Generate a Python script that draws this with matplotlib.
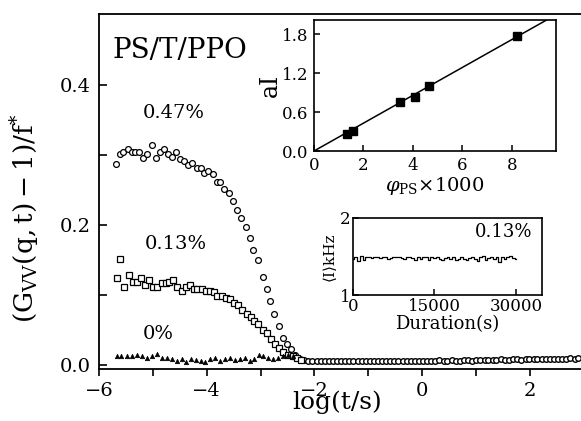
import matplotlib
matplotlib.use("Agg")
import matplotlib.pyplot as plt

plt.rcParams['font.family'] = ['DejaVu Serif']
plt.rcParams['mathtext.fontset'] = 'dejavuserif'

# main panel: 0.47 % (circles)
x047 = [-5.685, -5.61, -5.555, -5.46, -5.39, -5.33, -5.26, -5.18, -5.11, -5.02,
        -4.94, -4.87, -4.79, -4.72, -4.65, -4.57, -4.50, -4.42, -4.35, -4.27,
        -4.18, -4.11, -4.05, -3.98, -3.88, -3.81, -3.76, -3.68, -3.59, -3.51,
        -3.44, -3.37, -3.27, -3.20, -3.14, -3.05, -2.96, -2.88, -2.83, -2.75,
        -2.66, -2.59, -2.51, -2.44, -2.36, -2.27]
y047 = [0.288, 0.301, 0.304, 0.309, 0.305, 0.304, 0.305, 0.296, 0.302, 0.314,
        0.296, 0.304, 0.309, 0.301, 0.298, 0.305, 0.294, 0.291, 0.286, 0.289,
        0.281, 0.282, 0.275, 0.278, 0.273, 0.262, 0.262, 0.252, 0.246, 0.235,
        0.222, 0.210, 0.197, 0.181, 0.165, 0.150, 0.125, 0.109, 0.092, 0.073,
        0.055, 0.039, 0.030, 0.022, 0.014, 0.009]
# long-time tail (all curves overlap there)
x_tail = [-2.19, -2.11, -2.04, -1.96, -1.88, -1.81, -1.73, -1.66, -1.58, -1.50,
          -1.43, -1.35, -1.28, -1.20, -1.12, -1.05, -0.97, -0.90, -0.82, -0.74,
          -0.67, -0.59, -0.52, -0.44, -0.36, -0.29, -0.21, -0.14, -0.06, 0.02,
          0.09, 0.17, 0.24, 0.32, 0.40, 0.47, 0.55, 0.62, 0.70, 0.78,
          0.85, 0.93, 1.00, 1.08, 1.16, 1.23, 1.31, 1.38, 1.46, 1.54,
          1.61, 1.69, 1.76, 1.84, 1.92, 1.99, 2.07, 2.14, 2.22, 2.30,
          2.37, 2.45, 2.52, 2.60, 2.68, 2.75, 2.83, 2.90]
y_tail = [0.007, 0.006, 0.006, 0.005, 0.006, 0.005, 0.006, 0.005, 0.006, 0.005,
          0.006, 0.005, 0.006, 0.006, 0.005, 0.006, 0.005, 0.006, 0.006, 0.005,
          0.006, 0.006, 0.005, 0.006, 0.006, 0.006, 0.005, 0.006, 0.006, 0.006,
          0.006, 0.006, 0.006, 0.007, 0.006, 0.006, 0.007, 0.006, 0.006, 0.007,
          0.007, 0.006, 0.007, 0.007, 0.007, 0.007, 0.007, 0.007, 0.008, 0.007,
          0.007, 0.008, 0.008, 0.007, 0.008, 0.008, 0.008, 0.008, 0.008, 0.009,
          0.008, 0.009, 0.009, 0.009, 0.009, 0.010, 0.009, 0.010]

# 0.13 % (squares)
x013 = [-5.67, -5.61, -5.54, -5.44, -5.37, -5.30, -5.22, -5.15, -5.07, -5.00,
        -4.92, -4.83, -4.76, -4.70, -4.63, -4.55, -4.46, -4.39, -4.31, -4.24,
        -4.18, -4.09, -4.01, -3.94, -3.87, -3.81, -3.72, -3.64, -3.57, -3.50,
        -3.42, -3.35, -3.25, -3.18, -3.12, -3.05, -2.96, -2.88, -2.81, -2.73,
        -2.66, -2.59, -2.49, -2.40, -2.33, -2.25]
y013 = [0.124, 0.151, 0.112, 0.128, 0.118, 0.118, 0.124, 0.114, 0.121, 0.111,
        0.111, 0.117, 0.117, 0.118, 0.121, 0.112, 0.106, 0.112, 0.114, 0.108,
        0.109, 0.108, 0.105, 0.105, 0.104, 0.099, 0.099, 0.095, 0.094, 0.089,
        0.085, 0.079, 0.073, 0.069, 0.062, 0.058, 0.050, 0.045, 0.037, 0.030,
        0.024, 0.019, 0.014, 0.012, 0.010, 0.007]

# 0 % (triangles)
x000 = [-5.67, -5.59, -5.48, -5.39, -5.30, -5.20, -5.11, -5.02, -4.92, -4.83,
        -4.74, -4.65, -4.55, -4.46, -4.39, -4.29, -4.20, -4.11, -4.03, -3.94,
        -3.85, -3.76, -3.66, -3.57, -3.48, -3.38, -3.29, -3.20, -3.12, -3.03,
        -2.96, -2.86, -2.77, -2.68, -2.59, -2.49, -2.40]
y000 = [0.012, 0.013, 0.013, 0.013, 0.014, 0.013, 0.010, 0.013, 0.016, 0.010,
        0.010, 0.009, 0.006, 0.009, 0.004, 0.009, 0.007, 0.006, 0.004, 0.009,
        0.010, 0.006, 0.009, 0.010, 0.007, 0.009, 0.010, 0.006, 0.009, 0.014,
        0.012, 0.010, 0.009, 0.010, 0.012, 0.014, 0.013]

# inset 1: aI vs volume fraction
phi_ps = [1.32, 1.59, 3.47, 4.08, 4.66, 8.19]
a_I = [0.26, 0.31, 0.75, 0.83, 1.00, 1.77]
fit_phi = [0.0, 9.4]
fit_aI = [0.0, 2.02]

# inset 2: mean intensity vs duration (0.13 %)
duration = list(range(0, 30500, 500))
intensity = [1.47, 1.50, 1.44, 1.51, 1.45, 1.49, 1.50, 1.48, 1.49, 1.49,
             1.48, 1.50, 1.49, 1.47, 1.48, 1.49, 1.50, 1.49, 1.48, 1.47,
             1.49, 1.49, 1.48, 1.46, 1.49, 1.47, 1.49, 1.49, 1.46, 1.49,
             1.48, 1.49, 1.47, 1.46, 1.48, 1.50, 1.47, 1.49, 1.46, 1.47,
             1.49, 1.47, 1.45, 1.48, 1.50, 1.47, 1.44, 1.49, 1.51, 1.46,
             1.48, 1.50, 1.47, 1.49, 1.43, 1.50, 1.47, 1.49, 1.51, 1.48, 1.47]

fig = plt.figure(figsize=(5.81, 4.21), dpi=100)

# main axes
ax = fig.add_axes([99 / 581, 1 - 369 / 421, 1 - 99 / 581, (369 - 14) / 421])
ax.plot(x047, y047, 'o', ms=4.2, mfc='white', mec='black', mew=0.9)
ax.plot(x_tail, y_tail, 'o', ms=4.0, mfc='white', mec='black', mew=1.0)
ax.plot(x013, y013, 's', ms=4.0, mfc='white', mec='black', mew=0.9)
ax.plot(x000, y000, '^', ms=3.2, mfc='black', mec='black', mew=0.5)
ax.set_xlim(-6, 2.95)
ax.set_ylim(-0.006, 0.502)
ax.spines['right'].set_visible(False)
for s in ['left', 'top', 'bottom']:
    ax.spines[s].set_linewidth(1.3)
ax.set_xticks([-6, -4, -2, 0, 2])
ax.set_xticklabels(['\u22126', '\u22124', '\u22122', '0', '2'])
ax.set_xticks([-5, -3, -1, 1], minor=True)
ax.set_yticks([0.0, 0.2, 0.4])
ax.set_yticklabels(['0.0', '0.2', '0.4'])
ax.set_yticks([0.1, 0.3], minor=True)
ax.tick_params(axis='x', which='both', direction='out', length=5, width=1.2,
               labelsize=14, pad=4)
ax.tick_params(axis='y', which='both', direction='in', length=6, width=1.2,
               labelsize=14, pad=6)
ax.set_xlabel('log(t/s)', fontsize=18)
ax.xaxis.set_label_coords((337 - 99) / 482, -0.06)
ax.set_ylabel(r'$(\mathrm{G_{VV}(q,t)}-1)/\mathrm{f}^{*}$', fontsize=19)
ax.yaxis.set_label_coords(-0.12, 0.425)

ax.text(113 / 581, 1 - 50 / 421, 'PS/T/PPO', transform=fig.transFigure,
        fontsize=20, va='center', ha='left')
ax.text(174 / 581, 1 - 113 / 421, '0.47%', transform=fig.transFigure,
        fontsize=14, va='center', ha='center')
ax.text(176 / 581, 1 - 244 / 421, '0.13%', transform=fig.transFigure,
        fontsize=14, va='center', ha='center')
ax.text(158 / 581, 1 - 334 / 421, '0%', transform=fig.transFigure,
        fontsize=14, va='center', ha='center')

# inset 1
ax1 = fig.add_axes([314 / 581, 1 - 151 / 421, (556 - 314) / 581, (151 - 20) / 421])
ax1.plot(fit_phi, fit_aI, '-', color='black', lw=1.1)
ax1.plot(phi_ps, a_I, 's', ms=5.5, color='black')
ax1.set_xlim(0, 9.78)
ax1.set_ylim(0, 2.02)
ax1.set_xticks([0, 2, 4, 6, 8])
ax1.set_yticks([0.0, 0.6, 1.2, 1.8])
ax1.set_yticklabels(['0.0', '0.6', '1.2', '1.8'])
ax1.tick_params(direction='in', length=4, width=1.1, labelsize=12, pad=4)
for s in ax1.spines.values():
    s.set_linewidth(1.2)
ax1.set_xlabel(r'$\varphi_{\rm PS}$' + '\u00d71000', fontsize=14, labelpad=1)
ax1.set_ylabel('aI', fontsize=17, labelpad=0)

# inset 2
ax2 = fig.add_axes([353 / 581, 1 - 295 / 421, (542 - 353) / 581, (295 - 218) / 421])
ax2.plot(duration, intensity, '-', color='black', lw=0.9, drawstyle='steps-mid')
ax2.set_xlim(0, 34800)
ax2.set_ylim(1, 2)
ax2.set_xticks([0, 15000, 30000])
ax2.set_yticks([1, 2])
ax2.tick_params(direction='in', length=4, width=1.1, labelsize=12, pad=2)
for s in ax2.spines.values():
    s.set_linewidth(1.2)
ax2.set_xlabel('Duration(s)', fontsize=13, labelpad=0)
ax2.set_ylabel('\u27e8I\u27e9kHz', fontsize=11, labelpad=2)
ax2.text(0.95, 0.82, '0.13%', transform=ax2.transAxes, fontsize=13,
         ha='right', va='center')

fig.savefig('out.png', dpi=100)
